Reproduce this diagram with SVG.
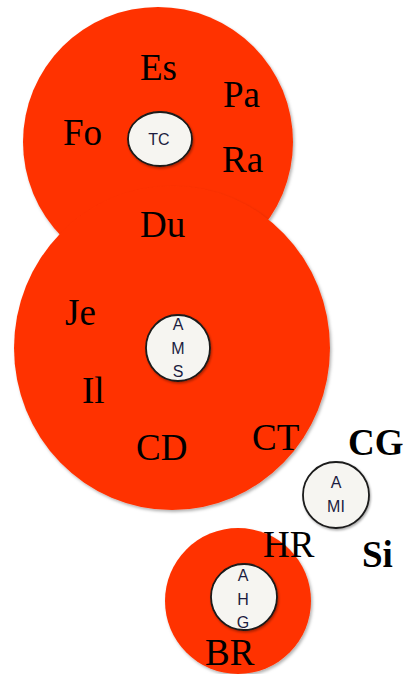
<svg xmlns="http://www.w3.org/2000/svg" width="408" height="674" viewBox="0 0 408 674">
<defs>
<filter id="sh" x="-20%" y="-20%" width="140%" height="140%">
<feDropShadow dx="1.5" dy="2" stdDeviation="1.5" flood-color="#000" flood-opacity="0.3"/>
</filter>
<filter id="shs" x="-20%" y="-20%" width="140%" height="140%">
<feDropShadow dx="1" dy="1.5" stdDeviation="1" flood-color="#000" flood-opacity="0.35"/>
</filter>
</defs>
<style>
.big{fill:#FF3300;filter:url(#sh)}
.core{fill:#F6F5F1;stroke:#1a1a1a;stroke-width:1.8;filter:url(#shs)}
.lbl{font-family:"Liberation Serif","Times New Roman",serif;font-size:37px;fill:#000}
.bold{font-weight:bold}
.sm{font-family:"Liberation Sans",Arial,sans-serif;font-size:16px;fill:#1c1c40;text-anchor:middle}
</style>
<rect width="408" height="674" fill="#fff"/>
<g id="connectors"/>
<g id="zone-top"><ellipse class="big" cx="158" cy="142" rx="135" ry="135"/></g>
<g id="zone-mid"><ellipse class="big" cx="172" cy="348" rx="158" ry="162"/></g>
<g id="zone-bottom"><circle class="big" cx="238" cy="601" r="73"/></g>
<g id="node-TC"><ellipse class="core" cx="160" cy="139" rx="32" ry="27"/><text class="sm" x="159" y="145">TC</text></g>
<g id="node-AMS"><ellipse class="core" cx="178" cy="348" rx="32" ry="33"/><text class="sm" x="178" y="330">A</text><text class="sm" x="178" y="354">M</text><text class="sm" x="178" y="377">S</text></g>
<g id="node-AMI"><circle class="core" cx="336" cy="495" r="33"/><text class="sm" x="336" y="488">A</text><text class="sm" x="336" y="512">MI</text></g>
<g id="node-AHG"><circle class="core" cx="244" cy="597" r="33"/><text class="sm" x="243" y="581">A</text><text class="sm" x="243" y="605">H</text><text class="sm" x="243" y="628">G</text></g>
<g id="labels">
<text class="lbl" x="140" y="80">Es</text>
<text class="lbl" x="223" y="107">Pa</text>
<text class="lbl" x="63" y="145">Fo</text>
<text class="lbl" x="222" y="172">Ra</text>
<text class="lbl" x="140" y="237">Du</text>
<text class="lbl" x="65" y="325">Je</text>
<text class="lbl" x="82" y="403">Il</text>
<text class="lbl" x="136" y="460">CD</text>
<text class="lbl" x="252" y="450">CT</text>
<text class="lbl bold" x="348" y="455">CG</text>
<text class="lbl" x="263" y="557">HR</text>
<text class="lbl bold" x="362" y="567">Si</text>
<text class="lbl" x="205" y="665">BR</text>
</g>
</svg>
